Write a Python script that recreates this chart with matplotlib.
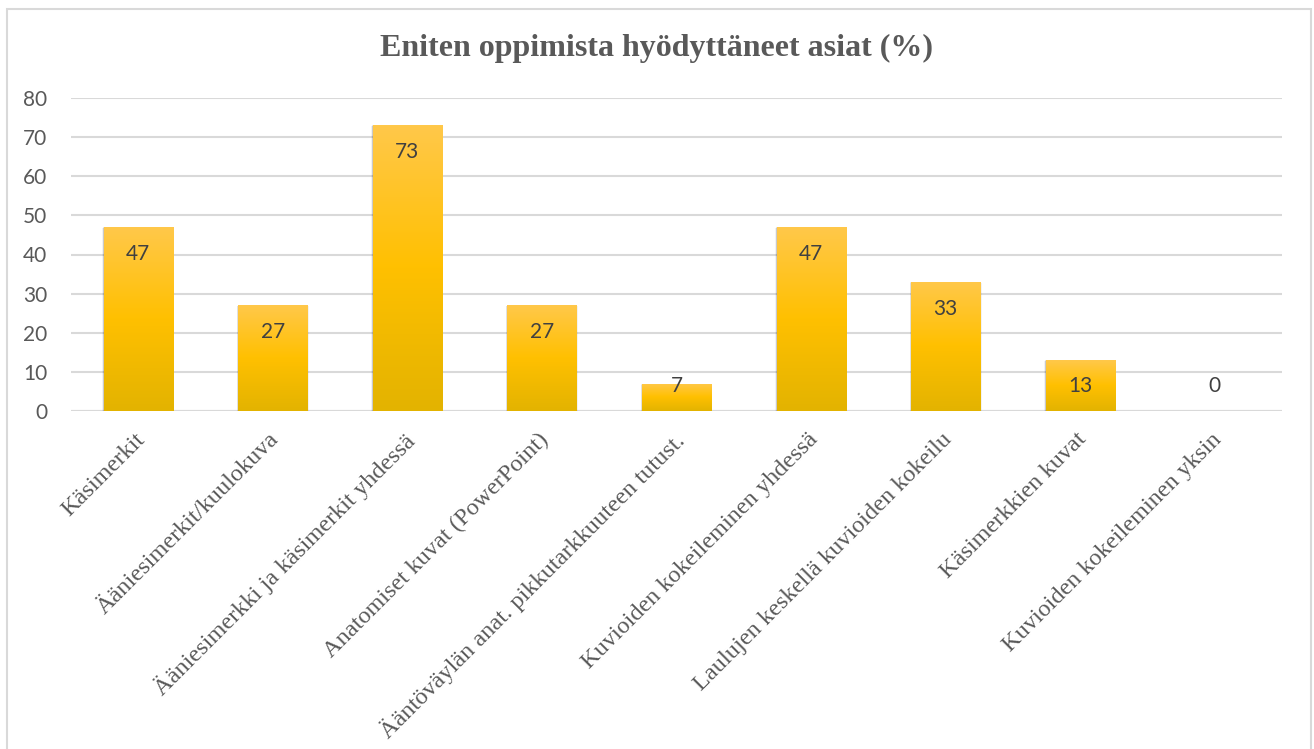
import numpy as np
import matplotlib
matplotlib.use("Agg")
import matplotlib.pyplot as plt
from matplotlib.patches import Rectangle
from matplotlib.colors import LinearSegmentedColormap
import matplotlib.transforms as mtransforms

categories = [
    "Käsimerkit",
    "Ääniesimerkit/kuulokuva",
    "Ääniesimerkki ja käsimerkit yhdessä",
    "Anatomiset kuvat (PowerPoint)",
    "Ääntöväylän anat. pikkutarkkuuteen tutust.",
    "Kuvioiden kokeileminen yhdessä",
    "Laulujen keskellä kuvioiden kokeilu",
    "Käsimerkkien kuvat",
    "Kuvioiden kokeileminen yksin",
]
values = [47, 27, 73, 27, 7, 47, 33, 13, 0]
yticks = [0, 10, 20, 30, 40, 50, 60, 70, 80]
title = "Eniten oppimista hyödyttäneet asiat (%)"

W, H = 1314, 749
fig = plt.figure(figsize=(W / 100, H / 100), dpi=100)
fig.patch.set_facecolor("white")

# chart border
fig.patches.append(Rectangle((7 / W, -0.05), (1311 - 7) / W, 1.05 - 9 / H,
                             transform=fig.transFigure, fill=False,
                             edgecolor="#D9D9D9", linewidth=1.5))

ax = fig.add_axes([71 / W, 1 - 411 / H, (1282 - 71) / W, (411 - 98) / H])
ax.set_xlim(-0.5, len(categories) - 0.5)
ax.set_ylim(0, 80)
for s in ax.spines.values():
    s.set_visible(False)
ax.set_yticks(yticks)
ax.yaxis.grid(True, color="#D9D9D9", linewidth=1.5)
ax.set_axisbelow(True)
ax.axhline(0, color="#D9D9D9", linewidth=1.5, zorder=1)
ax.tick_params(axis="y", length=0, pad=17, labelsize=15, labelcolor="#595959")
ax.tick_params(axis="x", length=0)
for lab in ax.get_yticklabels():
    lab.set_fontfamily("Lato")

x = np.arange(len(categories))
cmap = LinearSegmentedColormap.from_list(
    "gold", [(0.0, "#E3B300"), (0.5, "#FFC000"), (1.0, "#FFC84A")])
grad = np.linspace(0, 1, 256).reshape(-1, 1)

bars = ax.bar(x, values, width=0.513, color="#FFC000", zorder=2, linewidth=0)
for b, v in zip(bars, values):
    bx, by = b.get_x(), b.get_y()
    bw, bh = b.get_width(), b.get_height()
    # soft shadow
    for k, a in enumerate([0.10, 0.07, 0.05]):
        d = 0.012 * (k + 1)
        ax.add_patch(Rectangle((bx - d * 0.3, by - 0.25 * (k + 1)), bw + d * 0.6,
                               bh + 0.25 * (k + 1) * 0.5 + 0.1,
                               facecolor="black", alpha=a, linewidth=0, zorder=1.5))
    if bh > 0:
        im = ax.imshow(grad, cmap=cmap, origin="lower", aspect="auto",
                       extent=[bx, bx + bw, by, by + bh], zorder=3)
        im.set_clip_path(b)

ax.set_xlim(-0.5, len(categories) - 0.5)
ax.set_ylim(0, 80)

# data labels
for xi, v in zip(x, values):
    ylab = max(v - 6.9, 6.4)
    ax.text(xi, ylab, f"{v}", ha="center", va="center", fontsize=15,
            color="#404040", family="Lato", zorder=5)

ax.set_xticks(x)
ax.set_xticklabels(categories, rotation=45, ha="right", va="top",
                   rotation_mode="anchor", family="Liberation Serif",
                   fontsize=17.5, color="#595959")
off = mtransforms.ScaledTranslation(-4 / 100, -13 / 100, fig.dpi_scale_trans)
for lab in ax.get_xticklabels():
    lab.set_transform(lab.get_transform() + off)

fig.text(0.5, 1 - 48 / H, title, ha="center", va="center",
         family="Liberation Serif", fontweight="bold", fontsize=23,
         color="#595959")

fig.savefig("out.png", dpi=100)
